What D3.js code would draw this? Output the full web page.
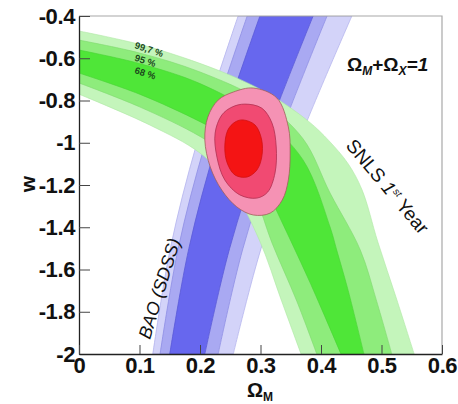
<!DOCTYPE html>
<html><head><meta charset="utf-8">
<script src="https://cdn.jsdelivr.net/npm/d3@7"></script>
<style>body{margin:0;background:#fff}svg{display:block}</style>
</head><body>
<svg id="chart" width="458" height="404"></svg>
<script>
// ---------- data ----------
const xTicks = [0, 0.1, 0.2, 0.3, 0.4, 0.5, 0.6];
const xTickLabels = ["0", "0.1", "0.2", "0.3", "0.4", "0.5", "0.6"];
const yTicks = [-2, -1.8, -1.6, -1.4, -1.2, -1, -0.8, -0.6, -0.4];
const yTickLabels = ["-2", "-1.8", "-1.6", "-1.4", "-1.2", "-1", "-0.8", "-0.6", "-0.4"];
const levelLabels = ["99,7 %", "95 %", "68 %"];

// SNLS 1st year band edges [Omega_M, w]; "upper" = outer side of the arc
const snUpper99 = [[0,-0.471],[0.117,-0.547],[0.25,-0.68],[0.32,-0.78],[0.38,-0.9],[0.413,-0.99],[0.445,-1.1],[0.468,-1.224],[0.494,-1.47],[0.525,-1.74],[0.554,-2]];
const snUpper95 = [[0,-0.514],[0.1,-0.575],[0.2,-0.665],[0.3,-0.8],[0.37,-0.98],[0.415,-1.238],[0.465,-1.508],[0.492,-1.75],[0.517,-2]];
const snUpper68 = [[0,-0.561],[0.1,-0.625],[0.2,-0.72],[0.3,-0.88],[0.37,-1.08],[0.415,-1.399],[0.426,-1.508],[0.445,-1.7],[0.471,-2]];
const snLower68 = [[0,-0.67],[0.1,-0.77],[0.2,-0.9],[0.25,-0.98],[0.29,-1.1],[0.326,-1.318],[0.38,-1.65],[0.433,-2]];
const snLower95 = [[0,-0.717],[0.1,-0.83],[0.2,-0.97],[0.25,-1.07],[0.29,-1.25],[0.319,-1.474],[0.36,-1.75],[0.393,-2]];
const snLower99 = [[0,-0.77],[0.117,-0.916],[0.2,-1.049],[0.25,-1.2],[0.298,-1.46],[0.335,-1.75],[0.367,-2]];

// BAO (SDSS) band edges [Omega_M, w] from bottom to top
const baoLeft99  = [[0.122,-2],[0.151,-1.5],[0.195,-1.0],[0.263,-0.4]];
const baoLeft95  = [[0.134,-2],[0.164,-1.5],[0.209,-1.0],[0.278,-0.4]];
const baoLeft68  = [[0.150,-2],[0.1816,-1.5],[0.228,-1.0],[0.299,-0.4]];
const baoRight68 = [[0.208,-2],[0.249,-1.5],[0.305,-1.0],[0.387,-0.4]];
const baoRight95 = [[0.230,-2],[0.271,-1.5],[0.3275,-1.0],[0.410,-0.4]];
const baoRight99 = [[0.255,-2],[0.301,-1.5],[0.3625,-1.0],[0.451,-0.4]];

// combined contours [Omega_M, w]
const comb99 = [[0.288,-0.741],[0.327,-0.788],[0.346,-0.925],[0.349,-1.049],[0.346,-1.176],[0.336,-1.271],[0.316,-1.333],[0.288,-1.342],[0.261,-1.304],[0.236,-1.224],[0.217,-1.115],[0.208,-0.987],[0.213,-0.878],[0.230,-0.798],[0.255,-0.760]];
const comb95 = [[0.274,-0.817],[0.302,-0.836],[0.319,-0.907],[0.326,-1.020],[0.324,-1.143],[0.312,-1.233],[0.294,-1.262],[0.266,-1.247],[0.241,-1.176],[0.228,-1.068],[0.225,-0.954],[0.236,-0.869],[0.253,-0.831]];
const comb68 = [[0.271,-0.892],[0.291,-0.916],[0.302,-0.987],[0.302,-1.068],[0.294,-1.129],[0.278,-1.162],[0.258,-1.153],[0.245,-1.096],[0.241,-1.020],[0.246,-0.940],[0.258,-0.902]];

// ---------- drawing ----------
const L = 79, R = 442, T = 16, B = 354;
const svg = d3.select("#chart");
const x = d3.scaleLinear().domain([0, 0.6]).range([L, R]);
const y = d3.scaleLinear().domain([-2, -0.4]).range([B, T]);
const FONT = "'Liberation Sans', Arial, Helvetica, sans-serif";

svg.append("rect").attr("width", 458).attr("height", 404).attr("fill", "#fff");
svg.append("defs").append("clipPath").attr("id", "clip")
  .append("rect").attr("x", L).attr("y", T).attr("width", R - L).attr("height", B - T);
const g = svg.append("g").attr("clip-path", "url(#clip)");

const line = d3.line().x(d => x(d[0])).y(d => y(d[1])).curve(d3.curveCatmullRom.alpha(0.5));
const closed = d3.line().x(d => x(d[0])).y(d => y(d[1])).curve(d3.curveCatmullRomClosed.alpha(0.5));
function band(a, b) {
  const p1 = line(a), p2 = line(b.slice().reverse());
  return p1 + "L" + p2.slice(1) + "Z";
}

// BAO
[[baoLeft99, baoRight99, "#d3d3f9", "#b4b4ee"],
 [baoLeft95, baoRight95, "#a9a9f2", "#8f8fe4"],
 [baoLeft68, baoRight68, "#6767ee", "#5a5ad8"]].forEach(([a, b, f, s]) => {
  g.append("path").attr("d", band(a, b)).attr("fill", f).attr("stroke", s).attr("stroke-width", 0.8);
});

// SNLS
[[snUpper99, snLower99, "#c4f5bb", "#aee8a4"],
 [snUpper95, snLower95, "#8eec7c", "#7fd86e"],
 [snUpper68, snLower68, "#4fe638", "#48d434"]].forEach(([a, b, f, s]) => {
  g.append("path").attr("d", band(a, b)).attr("fill", f).attr("stroke", s).attr("stroke-width", 0.6);
});

// combined
[[comb99, "#f592b4", "#a0605a"],
 [comb95, "#f14a72", "#b03050"],
 [comb68, "#f41414", "#d01010"]].forEach(([d, f, s]) => {
  g.append("path").attr("d", closed(d)).attr("fill", f).attr("stroke", s).attr("stroke-width", 0.8);
});

// frame (top/right)
svg.append("path").attr("d", `M${L},${T}H${R}V${B}`).attr("fill", "none").attr("stroke", "#a8a8a8").attr("stroke-width", 1.2);

// axes
const yMinor = d3.range(0, 41).map(i => -2 + i * 0.04);
const xMinor = d3.range(0, 31).map(i => i * 0.02);
const ya = svg.append("g").attr("transform", `translate(${L},0)`);
ya.call(d3.axisLeft(y).tickValues(yMinor).tickSize(-5).tickSizeOuter(0).tickFormat(""));
ya.call(d3.axisLeft(y).tickValues(yTicks).tickSize(-11).tickSizeOuter(0).tickPadding(4)
  .tickFormat((d, i) => yTickLabels[i]));
const xa = svg.append("g").attr("transform", `translate(0,${B})`);
xa.call(d3.axisBottom(x).tickValues(xMinor).tickSize(-5).tickSizeOuter(0).tickFormat(""));
xa.call(d3.axisBottom(x).tickValues(xTicks).tickSize(-9).tickSizeOuter(0).tickPadding(3)
  .tickFormat((d, i) => xTickLabels[i]));
[ya, xa].forEach(a => {
  a.selectAll("path.domain").attr("stroke", "#222").attr("stroke-width", 1.3);
  a.selectAll(".tick line").attr("stroke", "#444").attr("stroke-width", 1);
  a.selectAll(".tick text").attr("font-family", FONT).attr("font-weight", "bold")
    .attr("font-size", 22).attr("fill", "#111").attr("letter-spacing", -0.4);
});

// axis titles
svg.append("text").attr("transform", "translate(35,184) rotate(-90)")
  .attr("text-anchor", "middle").attr("font-family", FONT).attr("font-weight", "bold")
  .attr("font-size", 21).attr("fill", "#111").text("w");
const xt = svg.append("text").attr("x", 260).attr("y", 397).attr("text-anchor", "middle")
  .attr("font-family", FONT).attr("font-weight", "bold").attr("font-size", 20).attr("fill", "#111");
xt.append("tspan").text("Ω");
xt.append("tspan").attr("dy", 4).attr("font-size", 12).text("M");

// constraint
const ct = svg.append("text").attr("x", 347).attr("y", 71)
  .attr("font-family", FONT).attr("font-weight", "bold").attr("font-size", 19).attr("fill", "#111");
ct.append("tspan").text("Ω");
ct.append("tspan").attr("dy", 4).attr("font-size", 12).attr("font-style", "italic").text("M");
ct.append("tspan").attr("dy", -4).text("+Ω");
ct.append("tspan").attr("dy", 4).attr("font-size", 12).attr("font-style", "italic").text("X");
ct.append("tspan").attr("dy", -4).attr("font-style", "italic").text("=1");

// level labels
levelLabels.forEach((t, i) => {
  svg.append("text").attr("transform", `translate(${134},${48 + i * 12.5}) rotate(18)`)
    .attr("font-family", FONT).attr("font-weight", "bold").attr("font-size", 9.5)
    .attr("fill", "#1d4a1d").text(t);
});

// SNLS label
const sn = svg.append("text").attr("transform", "translate(345,146) rotate(50)")
  .attr("font-family", FONT).attr("font-size", 19).attr("fill", "#111");
sn.append("tspan").text("SNLS ");
sn.append("tspan").attr("font-style", "italic").text("1");
sn.append("tspan").attr("dy", -7).attr("font-size", 10).attr("font-style", "italic").text("st");
sn.append("tspan").attr("dy", 7).text(" Year");

// BAO label
svg.append("text").attr("transform", "translate(150,340) rotate(-73)")
  .attr("font-family", FONT).attr("font-style", "italic").attr("font-size", 18).attr("fill", "#111")
  .text("BAO (SDSS)");
</script>
</body></html>
